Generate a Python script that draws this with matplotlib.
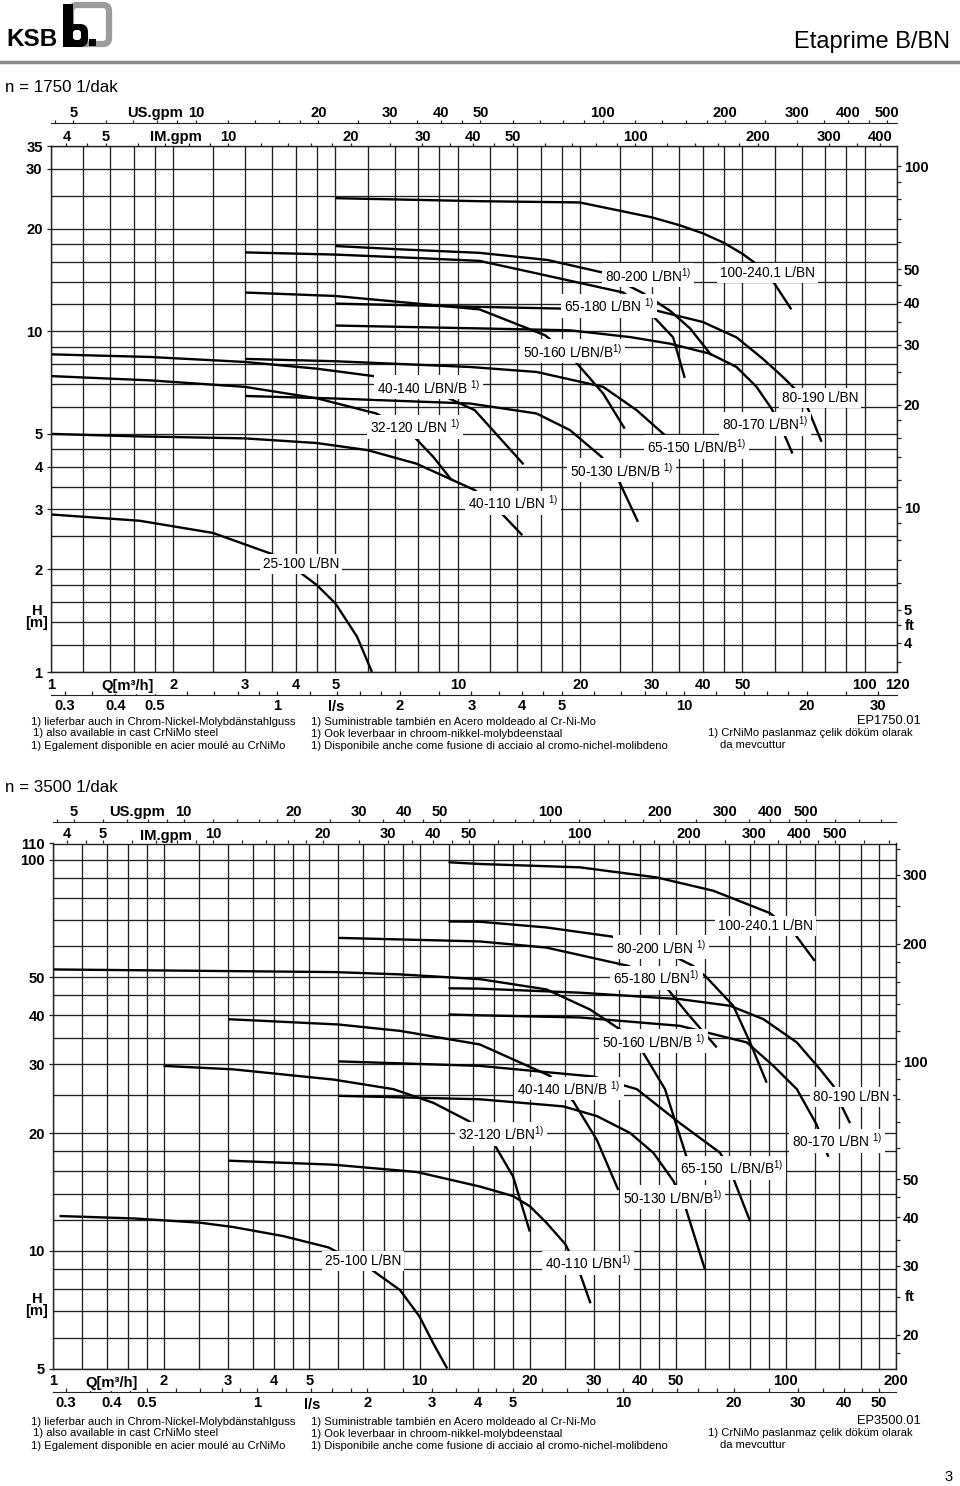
import matplotlib
matplotlib.use("Agg")
import matplotlib.pyplot as plt
from matplotlib.ticker import NullFormatter
from matplotlib.lines import Line2D
from matplotlib.patches import FancyBboxPatch, Rectangle

plt.rcParams['font.family'] = ['Liberation Sans', 'DejaVu Sans']
plt.rcParams['mathtext.default'] = 'regular'

# ---------------- n = 1750 1/dak  (Q in m3/h, H in m) ----------------
a_q_100_240 = [5.0, 11.3, 19.9, 25, 30, 35, 40, 45, 50, 54, 60, 66]
a_h_100_240 = [24.6, 24.1, 23.9, 22.6, 21.6, 20.5, 19.4, 18.2, 16.9, 15.8, 13.8, 11.6]
a_q_80_200 = [5.0, 7.25, 11.3, 16.6, 22.6, 28.5, 33.2, 37.2, 42.0]
a_h_80_200 = [17.8, 17.4, 17.0, 16.2, 14.9, 12.95, 11.5, 10.2, 8.5]
a_q_65_180 = [3.0, 5.0, 8.07, 11.3, 15.6, 25.5, 29.4, 33.8, 36.1]
a_h_65_180 = [17.05, 16.8, 16.4, 16.1, 14.8, 13.0, 11.45, 9.6, 7.3]
a_q_80_190 = [5.0, 11.3, 18.1, 30.8, 40, 48.4, 56.2, 62.9, 68.5, 71.9, 78.3]
a_h_80_190 = [12.06, 11.8, 11.66, 11.5, 10.65, 9.6, 8.3, 7.35, 6.64, 6.07, 4.74]
a_q_80_170 = [5.0, 11.3, 18.85, 26.5, 33.2, 41.6, 48.4, 54.2, 59.0, 63.0, 66.4]
a_h_80_170 = [10.4, 10.2, 10.07, 9.62, 9.2, 8.6, 7.86, 6.87, 5.93, 5.07, 4.38]
a_q_50_160 = [3.0, 5.0, 11.3, 16.4, 19.0, 22.75, 25.7]
a_h_50_160 = [13.0, 12.7, 11.6, 9.73, 8.41, 6.57, 5.18]
a_q_40_140 = [1.0, 1.75, 3.0, 4.5, 6.2, 8.95, 11.0, 14.5]
a_h_40_140 = [8.56, 8.41, 8.13, 7.77, 7.39, 6.57, 5.87, 4.07]
a_q_32_120 = [1.0, 1.75, 3.0, 4.5, 6.3, 7.6, 8.7, 9.65]
a_h_32_120 = [7.39, 7.18, 6.87, 6.36, 5.74, 5.07, 4.28, 3.66]
a_q_40_110 = [1.0, 1.6, 3.0, 4.5, 6.0, 7.9, 11.0, 12.7, 14.4]
a_h_40_110 = [5.0, 4.92, 4.85, 4.7, 4.48, 4.09, 3.42, 2.95, 2.52]
a_q_25_100 = [1.0, 1.65, 2.5, 3.49, 4.05, 4.5, 5.0, 5.65, 6.15]
a_h_25_100 = [2.9, 2.78, 2.56, 2.22, 1.98, 1.8, 1.59, 1.27, 1.0]
a_q_65_150 = [3.0, 5.0, 10.7, 15.6, 22.75, 27.5, 32.3]
a_h_65_150 = [8.3, 8.17, 7.86, 7.6, 6.87, 5.87, 4.95]
a_q_50_130 = [3.0, 5.0, 10.7, 15.6, 18.85, 22.55, 24.6, 27.7]
a_h_50_130 = [6.46, 6.35, 6.14, 5.74, 5.13, 4.28, 3.74, 2.76]

# ---------------- n = 3500 1/dak ----------------
b_q_100_240 = [12, 14.6, 27.4, 44.4, 63.4, 90.6, 105, 120]
b_h_100_240 = [98.5, 97.5, 95.6, 90.1, 83.3, 73.0, 65.2, 55.1]
b_q_80_200 = [12, 14.6, 22.2, 33.5, 48.8, 55.9, 60.8, 71.9, 79.9, 88.7]
b_h_80_200 = [69.5, 69.4, 67.1, 63.6, 57.0, 53.5, 50.0, 42.3, 34.1, 26.9]
b_q_65_180 = [6, 14.6, 22.2, 37.2, 46.8, 53.7, 64.8]
b_h_65_180 = [63.1, 61.8, 59.6, 53.5, 47.6, 40.6, 33.1]
b_q_80_190 = [12, 14.6, 27.4, 51.4, 70.5, 86.9, 107.2, 124.1, 134.9, 140.7, 149.8]
b_h_80_190 = [46.9, 46.8, 45.7, 44.0, 42.3, 39.1, 34.1, 29.1, 26.4, 23.9, 21.2]
b_q_80_170 = [12, 14.6, 27.4, 51.4, 78.3, 92.5, 107.2, 121.5, 128, 130.7]
b_h_80_170 = [40.2, 40.0, 39.5, 37.6, 34.1, 29.7, 25.9, 21.0, 18.3, 17.4]
b_q_50_160 = [1, 5.83, 8.84, 14.6, 22.2, 29.2, 35.3, 40.8, 46.8, 55.0]
b_h_50_160 = [52.4, 51.6, 50.9, 49.5, 46.6, 41.4, 36.8, 32.1, 25.9, 16.1]
b_q_40_140 = [3, 6, 8.84, 14.6, 22.7, 26.3, 30.5, 34.9]
b_h_40_140 = [39.1, 37.9, 36.5, 33.7, 28.0, 24.1, 19.2, 14.3]
b_q_65_150 = [6, 14.6, 29.8, 39.2, 51.4, 66.2, 71.2, 79.9]
b_h_65_150 = [30.5, 29.7, 27.9, 25.9, 21.2, 17.8, 15.7, 11.9]
b_q_32_120 = [2, 3.1, 5.82, 8.48, 10.9, 13.7, 15.9, 18.0, 20.0]
b_h_32_120 = [29.7, 29.1, 27.4, 25.9, 23.9, 21.4, 18.9, 15.5, 11.2]
b_q_50_130 = [6, 14.6, 24.7, 30.5, 37.6, 43.5, 49.3, 53.1, 60.2]
b_h_50_130 = [24.9, 24.4, 23.4, 22.1, 20.0, 17.8, 15.1, 13.0, 8.94]
b_q_40_110 = [3, 5.82, 9.83, 14.6, 18.0, 20.0, 22.2, 25.0, 27.4, 29.3]
b_h_40_110 = [17.0, 16.6, 15.9, 14.6, 13.8, 13.0, 11.8, 10.4, 8.77, 7.34]
b_q_25_100 = [1.04, 1.65, 2.51, 3.1, 4.25, 5.64, 7.4, 8.84, 10.0, 10.9, 11.9]
b_h_25_100 = [12.27, 12.1, 11.8, 11.5, 10.9, 10.2, 8.94, 7.94, 6.79, 5.8, 5.0]

# tick labels
a_q_labels = [1, 2, 3, 4, 5, 10, 20, 30, 40, 50, 100, 120]
a_h_labels = [1, 2, 3, 4, 5, 10, 20, 30, 35]
a_ft_labels = [4, 5, 10, 20, 30, 40, 50, 100]
a_us_labels = [5, 10, 20, 30, 40, 50, 100, 200, 300, 400, 500]
a_im_labels = [4, 5, 10, 20, 30, 40, 50, 100, 200, 300, 400]
a_ls_labels = [0.3, 0.4, 0.5, 1, 2, 3, 4, 5, 10, 20, 30]

b_q_labels = [1, 2, 3, 4, 5, 10, 20, 30, 40, 50, 100, 200]
b_h_labels = [5, 10, 20, 30, 40, 50, 100, 110]
b_ft_labels = [20, 30, 40, 50, 100, 200, 300]
b_us_labels = [5, 10, 20, 30, 40, 50, 100, 200, 300, 400, 500]
b_im_labels = [4, 5, 10, 20, 30, 40, 50, 100, 200, 300, 400, 500]
b_ls_labels = [0.3, 0.4, 0.5, 1, 2, 3, 4, 5, 10, 20, 30, 40, 50]

GRID = '#222222'
TICK_FS = 10.6
STEPS = [1, 1.2, 1.4, 1.6, 1.8, 2, 2.5, 3, 3.5, 4, 4.5, 5, 6, 7, 8, 9]
W, H = 960, 1486


def fx(x):
    return x / W


def fy(y):
    return 1 - y / H


def grid_vals(lo, hi):
    out = []
    for dec in (0.1, 1, 10, 100, 1000):
        for s in STEPS:
            v = round(s * dec, 4)
            if lo * 0.999 <= v <= hi * 1.001:
                out.append(v)
    return sorted(set(out))


def fmt(v):
    return f"{v:g}"


def setup(ax, qmax, hmin, hmax, q_lab, h_lab, ft_lab, us_lab, im_lab, ls_lab, us_loc, ls_loc):
    ax.set_xscale('log')
    ax.set_yscale('log')
    ax.set_xlim(1, qmax)
    ax.set_ylim(hmin, hmax)
    ax.set_xticks(grid_vals(1, qmax), minor=True)
    ax.set_yticks(grid_vals(hmin, hmax), minor=True)
    ax.set_xticks(q_lab, labels=[fmt(v) for v in q_lab], fontsize=TICK_FS, fontweight='bold')
    ax.set_yticks(h_lab, labels=[fmt(v) for v in h_lab], fontsize=TICK_FS, fontweight='bold')
    ax.xaxis.set_minor_formatter(NullFormatter())
    ax.yaxis.set_minor_formatter(NullFormatter())
    ax.grid(which='both', color=GRID, lw=0.95)
    ax.tick_params(axis='x', which='both', length=0, pad=4.2)
    ax.tick_params(axis='y', which='major', length=3, width=0.9, pad=3, color=GRID)
    ax.tick_params(axis='y', which='minor', length=0)
    for s in ax.spines.values():
        s.set_color(GRID)
        s.set_linewidth(1.0)

    ft = ax.secondary_yaxis('right', functions=(lambda m: m * 3.28084, lambda f: f / 3.28084))
    ft.set_yticks(grid_vals(hmin * 3.28084, hmax * 3.28084), minor=True)
    ft.set_yticks(ft_lab, labels=[fmt(v) for v in ft_lab], fontsize=TICK_FS, fontweight='bold')
    ft.yaxis.set_minor_formatter(NullFormatter())
    ft.tick_params(which='both', length=3, width=0.9, pad=2, color=GRID)
    ft.spines['right'].set_visible(False)

    us = ax.secondary_xaxis(us_loc, functions=(lambda q: q * 4.40287, lambda g: g / 4.40287))
    us.set_xticks(grid_vals(4.40287, qmax * 4.40287), minor=True)
    us.set_xticks(us_lab, labels=[fmt(v) for v in us_lab], fontsize=TICK_FS, fontweight='bold')
    us.xaxis.set_minor_formatter(NullFormatter())
    us.tick_params(which='both', length=2.2, width=0.9, pad=0, color=GRID)
    us.spines['top'].set_color(GRID)

    im = ax.secondary_xaxis('top', functions=(lambda q: q * 3.66615, lambda g: g / 3.66615))
    im.set_xticks(grid_vals(3.66615, qmax * 3.66615), minor=True)
    im.set_xticks(im_lab, labels=[fmt(v) for v in im_lab], fontsize=TICK_FS, fontweight='bold')
    im.xaxis.set_minor_formatter(NullFormatter())
    im.tick_params(which='both', length=2, width=0.9, pad=-0.5, color=GRID)
    im.spines['top'].set_visible(False)

    ls = ax.secondary_xaxis(ls_loc, functions=(lambda q: q / 3.6, lambda v: v * 3.6))
    ls.set_xticks(grid_vals(1 / 3.6, qmax / 3.6), minor=True)
    ls.set_xticks(ls_lab, labels=[fmt(v) for v in ls_lab], fontsize=TICK_FS, fontweight='bold')
    ls.xaxis.set_minor_formatter(NullFormatter())
    ls.tick_params(which='both', direction='in', length=3, width=0.9, pad=3.2, color=GRID)
    ls.spines['bottom'].set_color(GRID)


def draw_curves(ax, curves, labels):
    for q, h in curves:
        ax.plot(q, h, color='black', lw=1.7, solid_capstyle='butt',
                solid_joinstyle='round', zorder=2.5)
    for text, q, h in labels:
        ax.text(q, h, text, fontsize=9.8, ha='left', va='center', zorder=4,
                bbox=dict(boxstyle='square,pad=0.22', fc='white', ec='none'))


fig = plt.figure(figsize=(W / 100, H / 100), dpi=100)

# ---------------- header ----------------
fig.text(fx(6), fy(40), "KSB", fontsize=17.5, fontweight='bold', va='center', ha='left')
logo = fig.add_axes([fx(60), fy(50), fx(56), 50 / H])
logo.set_xlim(60, 116)
logo.set_ylim(50, 0)
logo.axis('off')
logo.add_patch(FancyBboxPatch((71, 5), 38, 39, boxstyle='round,pad=0,rounding_size=6',
                              fill=False, ec='#9c9c9c', lw=4.5))
logo.add_patch(Rectangle((63, 4), 10, 43, fc='black', ec='none'))
logo.add_patch(FancyBboxPatch((63, 24), 25, 23, boxstyle='round,pad=0,rounding_size=8',
                              fc='black', ec='none'))
logo.add_patch(FancyBboxPatch((73, 30), 8, 10, boxstyle='round,pad=0,rounding_size=3',
                              fc='white', ec='none'))
logo.add_patch(Rectangle((89, 39), 7, 7, fc='black', ec='none'))
fig.text(fx(950), fy(42), "Etaprime B/BN", fontsize=17, ha='right', va='center')
fig.add_artist(Line2D([0, 1], [fy(62), fy(62)], color='#8a8a8a', lw=2.5))
fig.text(fx(5), fy(88), "n = 1750 1/dak", fontsize=12.2, va='center')
fig.text(fx(5), fy(788), "n = 3500 1/dak", fontsize=12.2, va='center')

# ---------------- chart 1750 ----------------
ax1 = fig.add_axes([fx(51), fy(672), 846 / W, 526 / H])
setup(ax1, 120, 1, 35, a_q_labels, a_h_labels, a_ft_labels, a_us_labels, a_im_labels,
      a_ls_labels, 1 + 23 / 526, -23 / 526)
curves_a = [(a_q_100_240, a_h_100_240), (a_q_80_200, a_h_80_200), (a_q_65_180, a_h_65_180),
            (a_q_80_190, a_h_80_190), (a_q_80_170, a_h_80_170), (a_q_50_160, a_h_50_160),
            (a_q_40_140, a_h_40_140), (a_q_32_120, a_h_32_120), (a_q_40_110, a_h_40_110),
            (a_q_25_100, a_h_25_100), (a_q_65_150, a_h_65_150), (a_q_50_130, a_h_50_130)]
labels_a = [("100-240.1 L/BN", 44.0, 14.8), ("80-200 L/BN$^{1)}$", 22.97, 14.6),
            ("65-180 L/BN $^{1)}$", 18.2, 11.9), ("50-160 L/BN/B$^{1)}$", 14.45, 8.74),
            ("40-140 L/BN/B $^{1)}$", 6.32, 6.85), ("32-120 L/BN $^{1)}$", 6.08, 5.23),
            ("80-190 L/BN", 62.5, 6.36), ("80-170 L/BN$^{1)}$", 44.5, 5.34),
            ("65-150 L/BN/B$^{1)}$", 29.1, 4.57), ("50-130 L/BN/B $^{1)}$", 18.85, 3.91),
            ("40-110 L/BN $^{1)}$", 10.58, 3.13), ("25-100 L/BN", 3.32, 2.07)]
draw_curves(ax1, curves_a, labels_a)

# ---------------- chart 3500 ----------------
ax2 = fig.add_axes([fx(53.3), fy(1368.5), 842.7 / W, 525 / H])
setup(ax2, 200, 5, 110, b_q_labels, b_h_labels, b_ft_labels, b_us_labels, b_im_labels,
      b_ls_labels, 1 + 21 / 525, -23.5 / 525)
curves_b = [(b_q_100_240, b_h_100_240), (b_q_80_200, b_h_80_200), (b_q_65_180, b_h_65_180),
            (b_q_80_190, b_h_80_190), (b_q_80_170, b_h_80_170), (b_q_50_160, b_h_50_160),
            (b_q_40_140, b_h_40_140), (b_q_65_150, b_h_65_150), (b_q_32_120, b_h_32_120),
            (b_q_50_130, b_h_50_130), (b_q_40_110, b_h_40_110), (b_q_25_100, b_h_25_100)]
labels_b = [("100-240.1 L/BN", 65.3, 67.8), ("80-200 L/BN $^{1)}$", 34.4, 59.7),
            ("65-180 L/BN$^{1)}$", 33.8, 49.8), ("50-160 L/BN/B $^{1)}$", 31.5, 34.3),
            ("40-140 L/BN/B $^{1)}$", 18.5, 26.0), ("32-120 L/BN$^{1)}$", 12.7, 19.9),
            ("80-190 L/BN", 118.8, 24.8), ("80-170 L/BN $^{1)}$", 104.0, 19.1),
            ("65-150  L/BN/B$^{1)}$", 51.5, 16.3), ("50-130 L/BN/B$^{1)}$", 35.9, 13.7),
            ("40-110 L/BN$^{1)}$", 22.0, 9.32), ("25-100 L/BN", 5.52, 9.43)]
draw_curves(ax2, curves_b, labels_b)

# ---------------- axis captions ----------------
bold = dict(fontsize=TICK_FS, fontweight='bold', va='center')
for (x_us, y_us, x_im, y_im, x_q, y_q, x_ls, y_ls, y_hm, y_ft) in [
        (155, 113, 176, 137, 128, 686, 336, 707, 617, 626),
        (137, 812, 166, 836, 112, 1383, 312, 1405, 1305, 1297)]:
    fig.text(fx(x_us), fy(y_us), "US.gpm", ha='center', **bold)
    fig.text(fx(x_im), fy(y_im), "IM.gpm", ha='center', **bold)
    fig.text(fx(x_q), fy(y_q), "Q[m³/h]", ha='center', **bold,
             bbox=dict(boxstyle='square,pad=0.1', fc='white', ec='none'))
    fig.text(fx(x_ls), fy(y_ls), "l/s", ha='center', **bold,
             bbox=dict(boxstyle='square,pad=0.1', fc='white', ec='none'))
    fig.text(fx(37), fy(y_hm), "H\n[m]", ha='center', linespacing=0.85, **bold)
    fig.text(fx(905), fy(y_ft), "ft", ha='left', **bold)

# ---------------- footnotes ----------------
foot = dict(fontsize=8.1, va='center', ha='left')
for y0, code in [(722, "EP1750.01"), (1422, "EP3500.01")]:
    fig.text(fx(31), fy(y0), "1) lieferbar auch in Chrom-Nickel-Molybdänstahlguss", **foot)
    fig.text(fx(33), fy(y0 + 11), "1) also available in cast CrNiMo steel", **foot)
    fig.text(fx(31), fy(y0 + 24), "1) Egalement disponible en acier moulé au CrNiMo", **foot)
    fig.text(fx(311), fy(y0), "1) Suministrable también en Acero moldeado al Cr-Ni-Mo", **foot)
    fig.text(fx(311), fy(y0 + 12), "1) Ook leverbaar in chroom-nikkel-molybdeenstaal", **foot)
    fig.text(fx(311), fy(y0 + 24), "1) Disponibile anche come fusione di acciaio al cromo-nichel-molibdeno", **foot)
    fig.text(fx(921), fy(y0 - 1), code, fontsize=9.3, ha='right', va='center')
    fig.text(fx(708), fy(y0 + 11), "1) CrNiMo paslanmaz çelik döküm olarak", **foot)
    fig.text(fx(720), fy(y0 + 23), "da mevcuttur", **foot)

fig.text(fx(953), fy(1477), "3", fontsize=10.5, ha='right', va='center')

fig.savefig("out.png", dpi=100)
